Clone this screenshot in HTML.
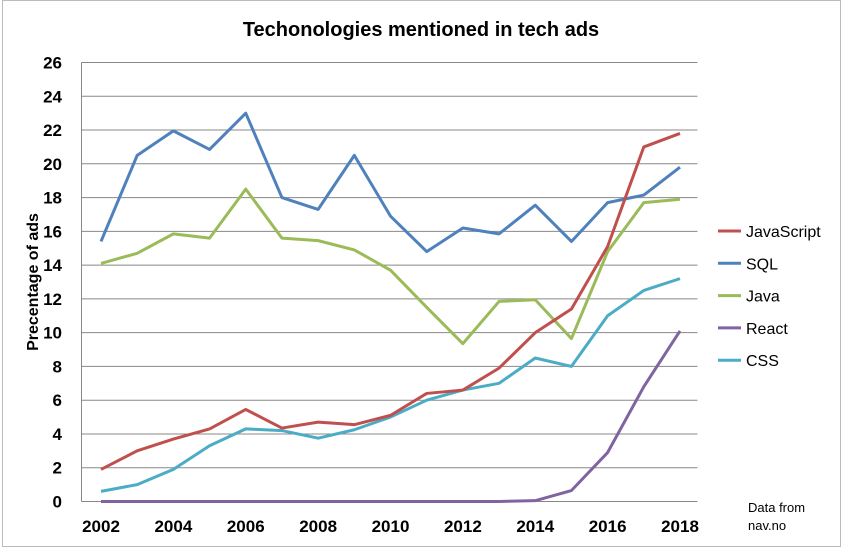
<!DOCTYPE html>
<html><head><meta charset="utf-8"><style>
html,body{margin:0;padding:0;background:#fff;}
svg{display:block;font-family:"Liberation Sans Narrow","Liberation Sans",sans-serif;}
</style></head><body>
<svg id="chart" width="842" height="549">
<rect x="2.5" y="0.5" width="838" height="546" fill="#fff" stroke="#bbb"/>
<text x="421" y="36" text-anchor="middle" font-size="20" font-weight="bold" font-family="Liberation Sans, sans-serif">Techonologies mentioned in tech ads</text>
<text transform="translate(38,282) rotate(-90)" text-anchor="middle" font-size="16" font-weight="bold" font-family="Liberation Sans, sans-serif">Precentage of ads</text>
<g id="grid"></g><g id="lines"></g><g id="legend"></g>
<text x="748" y="512" font-size="13" font-family="Liberation Sans, sans-serif">Data from</text>
<text x="748" y="530" font-size="13" font-family="Liberation Sans, sans-serif">nav.no</text>
</svg>
<script>
const years=[2002,2003,2004,2005,2006,2007,2008,2009,2010,2011,2012,2013,2014,2015,2016,2017,2018];
const yTicks=[0,2,4,6,8,10,12,14,16,18,20,22,24,26];
const xTickLabels=[2002,2004,2006,2008,2010,2012,2014,2016,2018];
const seriesNames=["JavaScript","SQL","Java","React","CSS"];
const javascript=[1.9,3.0,3.7,4.3,5.45,4.35,4.7,4.55,5.1,6.4,6.6,7.9,10.0,11.4,15.1,21.0,21.8];
const sql=[15.4,20.5,21.95,20.85,23.0,18.0,17.3,20.5,16.9,14.8,16.2,15.85,17.55,15.4,17.7,18.15,19.8];
const java=[14.1,14.7,15.85,15.6,18.5,15.6,15.45,14.9,13.7,11.5,9.35,11.85,11.95,9.65,14.8,17.7,17.9];
const react=[0,0,0,0,0,0,0,0,0,0,0,0,0.05,0.65,2.9,6.8,10.1];
const css=[0.6,1.0,1.9,3.3,4.3,4.2,3.75,4.25,5.0,6.0,6.6,7.0,8.5,8.0,11.0,12.5,13.2];
const colors=["#c0504d","#4f81bd","#9bbb59","#8064a2","#4bacc6"];
const NS="http://www.w3.org/2000/svg";
const X0=81.5,X1=697.5,Y0=501.5,Y1=62.5;
const xs=y=>101+(y-2002)*(680-101)/16;
const ys=v=>Y0-(v/26)*(Y0-Y1);
function mk(t,a,p){const e=document.createElementNS(NS,t);for(const k in a)e.setAttribute(k,a[k]);p.appendChild(e);return e;}
const grid=document.getElementById('grid');
yTicks.forEach(v=>{
  const l=mk('line',{x1:X0,x2:X1,y1:ys(v),y2:ys(v),stroke:'#888','stroke-width':1},grid);
  
  
  const t=mk('text',{x:62,y:ys(v)+6,'text-anchor':'end','font-size':17,'font-weight':'bold'},grid);
  t.textContent=v;
  
  
});
const ax=mk('line',{x1:X0,x2:X0,y1:Y1,y2:Y0,stroke:'#888'},grid);


xTickLabels.forEach(y=>{
  const t=mk('text',{x:xs(y),y:532,'text-anchor':'middle','font-size':17,'font-weight':'bold'},grid);
  t.textContent=y;
  
  
});
const data=[javascript,sql,java,react,css];
const lines=document.getElementById('lines');
[1,2,4,3,0].forEach(i=>{
  const pts=data[i].map((v,j)=>xs(years[j])+','+ys(v)).join(' ');
  const p=mk('polyline',{points:pts,fill:'none',stroke:colors[i],'stroke-width':3,'stroke-linejoin':'round'},lines);
  
  
});
const lg=document.getElementById('legend');
seriesNames.forEach((n,i)=>{
  const y=231+i*32.3;
  const g=mk('g',{},lg);
  
  
  mk('line',{x1:718,x2:741,y1:y,y2:y,stroke:colors[i],'stroke-width':3},g);
  const t=mk('text',{x:746,y:y+6,'font-size':16,'font-family':'Liberation Sans, sans-serif'},g);
  t.textContent=n;
});
</script>
</body></html>
